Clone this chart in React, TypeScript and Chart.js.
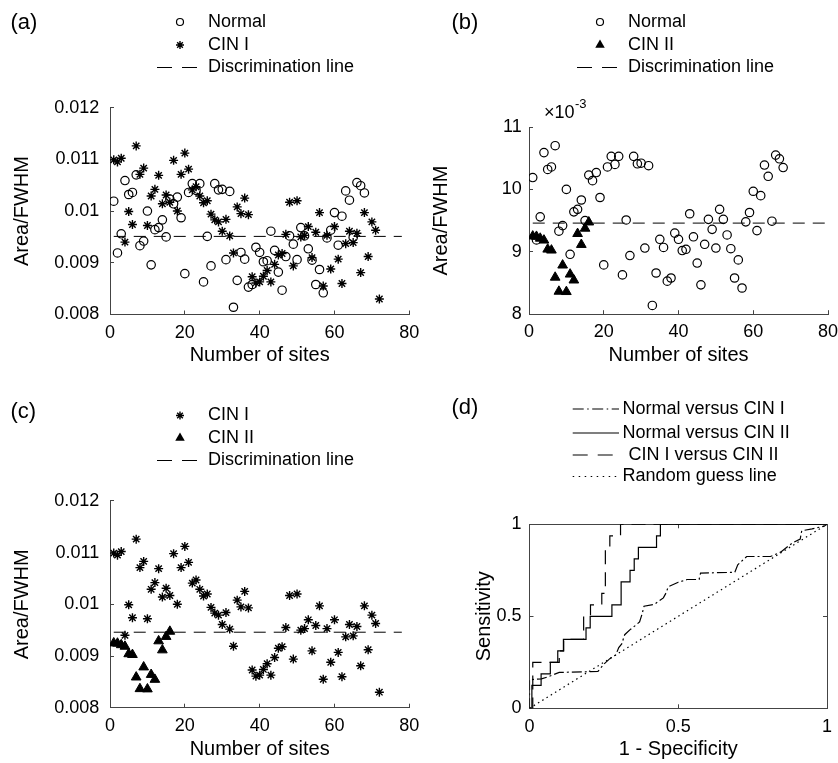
import React, { useEffect, useRef } from 'react';
import { Chart, registerables } from 'chart.js';

Chart.register(...registerables);

const FONT = '"Liberation Sans", Arial, Helvetica, sans-serif';
const AXIS = '#444444';

// ---------------- data ----------------
const siteTicks = [0, 20, 40, 60, 80];
const areaTicks = [0.008, 0.009, 0.01, 0.011, 0.012];
const areaTicksB = [0.008, 0.009, 0.01, 0.011];
const rocTicks = [0, 0.5, 1];

const normalArea = [
  0.01019, 0.00919, 0.00956, 0.01059, 0.01032, 0.01036, 0.0107, 0.00933, 0.00942, 0.01,
  0.00896, 0.00964, 0.00968, 0.00983, 0.0095, 0.01023, 0.01014, 0.01027, 0.00987, 0.00879,
  0.01036, 0.01053, 0.0104, 0.01053, 0.00863, 0.00951, 0.00894, 0.01053, 0.01041, 0.01042,
  0.00906, 0.01038, 0.00814, 0.00866, 0.0092, 0.00907, 0.00853, 0.00858, 0.0093, 0.0092,
  0.00902, 0.00904, 0.00961, 0.00924, 0.00882, 0.00847, 0.00912, 0.00952, 0.00936, 0.00906,
  0.00968, 0.00952, 0.00927, 0.00905, 0.00858, 0.00887, 0.00842, 0.00948, 0.00963, 0.00997,
  0.00934, 0.0099, 0.01039, 0.01021, 0.00949, 0.01055, 0.01049, 0.01035,
];

const cin1Area = [
  0.01099, 0.01095, 0.01102, 0.0094, 0.00999, 0.00974, 0.01126, 0.01071, 0.01083, 0.00972,
  0.01029, 0.01042, 0.01069, 0.01014, 0.01031, 0.01017, 0.01098, 0.01, 0.01071, 0.01112,
  0.01081, 0.01041, 0.01047, 0.01029, 0.01016, 0.0102, 0.00994, 0.00983, 0.00979, 0.00961,
  0.00984, 0.00952, 0.00919, 0.01008, 0.00995, 0.01025, 0.00993, 0.00873, 0.00861, 0.00863,
  0.00874, 0.00885, 0.00863, 0.00897, 0.00915, 0.00918, 0.00955, 0.01017, 0.00894, 0.0102,
  0.0095, 0.00953, 0.0097, 0.0091, 0.00959, 0.00997, 0.00855, 0.00953, 0.00888, 0.0097,
  0.00907, 0.0086, 0.00937, 0.00961, 0.00939, 0.00957, 0.00881, 0.00997, 0.00912, 0.00979,
  0.00963, 0.0083,
];

const cin2Area = [
  0.00925, 0.009245, 0.009215, 0.009185, 0.00904, 0.009025, 0.00859, 0.008365,
  0.008785, 0.00836, 0.00864, 0.008545, 0.00929, 0.009115, 0.009375, 0.009475,
];

const discLevelA = 0.00951;
const discLevelB = 0.00946;
const discLevelC = 0.00946;
const discSitesAC = [1, 78];
const discSitesB = [1, 80];

// ROC: Normal versus CIN I (dash-dot)
const rocN1X = [0, 0, 0.04, 0.06, 0.1, 0.23, 0.25, 0.27, 0.29, 0.3, 0.31, 0.32, 0.34, 0.36, 0.37, 0.378, 0.385, 0.42, 0.45, 0.46, 0.466, 0.5, 0.53, 0.57, 0.575, 0.69, 0.7, 0.73, 0.81, 0.825, 0.845, 0.865, 0.885, 0.91, 0.915, 0.95, 0.99, 1];
const rocN1Y = [0, 0.155, 0.16, 0.17, 0.195, 0.2, 0.24, 0.27, 0.29, 0.33, 0.35, 0.4, 0.43, 0.455, 0.47, 0.51, 0.555, 0.565, 0.6, 0.63, 0.66, 0.685, 0.7, 0.7, 0.735, 0.739, 0.78, 0.825, 0.825, 0.835, 0.85, 0.875, 0.9, 0.92, 0.965, 0.975, 0.99, 1];
// ROC: Normal versus CIN II (solid)
const rocN2X = [0, 0.008, 0.008, 0.039, 0.039, 0.07, 0.07, 0.095, 0.095, 0.114, 0.114, 0.19, 0.19, 0.204, 0.204, 0.277, 0.277, 0.308, 0.308, 0.338, 0.338, 0.352, 0.352, 0.366, 0.366, 0.427, 0.427, 0.44, 0.44, 1];
const rocN2Y = [0, 0, 0.125, 0.125, 0.1875, 0.1875, 0.25, 0.25, 0.3125, 0.3125, 0.375, 0.375, 0.4375, 0.4375, 0.5, 0.5, 0.5625, 0.5625, 0.6875, 0.6875, 0.75, 0.75, 0.8125, 0.8125, 0.875, 0.875, 0.9375, 0.9375, 1, 1];
// ROC: CIN I versus CIN II (dashed)
const rocC12X = [0, 0.011, 0.011, 0.1, 0.1, 0.115, 0.115, 0.182, 0.182, 0.205, 0.205, 0.243, 0.243, 0.255, 0.255, 0.27, 0.27, 0.306, 0.306, 1];
const rocC12Y = [0, 0, 0.25, 0.25, 0.3125, 0.3125, 0.375, 0.375, 0.5, 0.5, 0.5625, 0.5625, 0.625, 0.625, 0.875, 0.875, 0.9375, 0.9375, 1, 1];
// Random guess
const randomX = [0, 1];
const randomY = [0, 1];

// ---------------- helpers ----------------
const sitePoints = (vals: number[]) => vals.map((y, i) => ({ x: i + 1, y }));
const zipXY = (xs: number[], ys: number[]) => xs.map((x, i) => ({ x, y: ys[i] }));
const hLine = (xs: number[], level: number) => xs.map((x) => ({ x, y: level }));

function xScale(min: number, max: number, ticks: number[], title: string, h: number) {
  return {
    type: 'linear',
    position: 'bottom',
    min,
    max,
    afterBuildTicks: (s: any) => { s.ticks = ticks.map((v) => ({ value: v })); },
    afterFit: (s: any) => { s.height = h; s.paddingLeft = 0; s.paddingRight = 0; },
    ticks: { color: '#000', font: { family: FONT, size: 18 }, padding: 11.5, maxRotation: 0, autoSkip: false, callback: (v: any) => String(v) },
    grid: { display: true, drawOnChartArea: false, drawTicks: true, tickLength: -4, color: AXIS, lineWidth: 1 },
    border: { display: true, color: AXIS, width: 1 },
    title: { display: true, text: title, color: '#000', font: { family: FONT, size: 20 }, padding: 0 },
  };
}

function yScale(min: number, max: number, ticks: number[], fmt: (v: number) => string, title: string, w: number, pad: number) {
  return {
    type: 'linear',
    position: 'left',
    min,
    max,
    afterBuildTicks: (s: any) => { s.ticks = ticks.map((v) => ({ value: v })); },
    afterFit: (s: any) => { s.width = w; s.paddingTop = 0; s.paddingBottom = 0; },
    ticks: { color: '#000', font: { family: FONT, size: 18 }, padding: pad, autoSkip: false, callback: (v: any) => fmt(v) },
    grid: { display: true, drawOnChartArea: false, drawTicks: true, tickLength: -4, color: AXIS, lineWidth: 1 },
    border: { display: true, color: AXIS, width: 1 },
    title: { display: true, text: title, color: '#000', font: { family: FONT, size: 20 }, padding: 0 },
  };
}

function boxScale(axis: 'x' | 'y', position: string, ticks: number[]) {
  return {
    type: 'linear',
    axis,
    position,
    min: 0,
    max: 1,
    afterBuildTicks: (s: any) => { s.ticks = ticks.map((v) => ({ value: v })); },
    afterFit: (s: any) => {
      if (axis === 'x') s.height = 0; else s.width = 0;
      s.paddingLeft = 0; s.paddingRight = 0; s.paddingTop = 0; s.paddingBottom = 0;
    },
    ticks: { display: false },
    grid: { display: true, drawOnChartArea: false, drawTicks: true, tickLength: -4, color: AXIS, lineWidth: 1 },
    border: { display: true, color: AXIS, width: 1 },
  };
}

type Kind = 'circle' | 'star' | 'triangle' | 'dash' | 'solid' | 'dashdot' | 'dotted';
type Item = { label: string; kind: Kind; textX?: number };
type Overlay = {
  tag: string; tagX: number; tagY: number;
  markX: number; lineX0: number; lineX1: number; textX: number;
  rows: number[]; items: Item[];
  extra?: (ctx: CanvasRenderingContext2D) => void;
};

function drawMark(ctx: CanvasRenderingContext2D, kind: Kind, cx: number, x0: number, x1: number, y: number) {
  ctx.save();
  ctx.strokeStyle = '#000';
  ctx.fillStyle = '#000';
  ctx.lineWidth = 1;
  ctx.setLineDash([]);
  ctx.beginPath();
  if (kind === 'circle') {
    ctx.lineWidth = 1.2;
    ctx.arc(cx, y, 3.5, 0, Math.PI * 2);
    ctx.stroke();
  } else if (kind === 'star') {
    const r = 4;
    const d = r * Math.SQRT1_2;
    ctx.moveTo(cx - r, y); ctx.lineTo(cx + r, y);
    ctx.moveTo(cx, y - r); ctx.lineTo(cx, y + r);
    ctx.moveTo(cx - d, y - d); ctx.lineTo(cx + d, y + d);
    ctx.moveTo(cx - d, y + d); ctx.lineTo(cx + d, y - d);
    ctx.lineWidth = 1.4;
    ctx.stroke();
  } else if (kind === 'triangle') {
    const r = 5.5;
    ctx.moveTo(cx, y - r);
    ctx.lineTo(cx + r * 0.866, y + r / 2);
    ctx.lineTo(cx - r * 0.866, y + r / 2);
    ctx.closePath();
    ctx.fill();
  } else {
    if (kind === 'dash') ctx.setLineDash([15, 10]);
    if (kind === 'dashdot') ctx.setLineDash([11, 3.5, 1.5, 3.5]);
    if (kind === 'dotted') ctx.setLineDash([1.5, 4.5]);
    ctx.lineWidth = 1.2;
    ctx.moveTo(x0, y);
    ctx.lineTo(x1, y);
    ctx.stroke();
  }
  ctx.restore();
}

function overlayPlugin(o: Overlay) {
  return {
    id: 'overlay',
    afterDraw(chart: any) {
      const ctx: CanvasRenderingContext2D = chart.ctx;
      ctx.save();
      ctx.fillStyle = '#000';
      ctx.textBaseline = 'middle';
      ctx.textAlign = 'left';
      ctx.font = `22px ${FONT}`;
      ctx.fillText(o.tag, o.tagX, o.tagY);
      o.items.forEach((it, i) => {
        const y = o.rows[i];
        drawMark(ctx, it.kind, o.markX, o.lineX0, o.lineX1, y);
        ctx.fillStyle = '#000';
        ctx.font = `18px ${FONT}`;
        ctx.fillText(it.label, it.textX ?? o.textX, y);
      });
      if (o.extra) o.extra(ctx);
      ctx.restore();
    },
  };
}

const baseOptions = (padding: any, scales: any) => ({
  responsive: false,
  maintainAspectRatio: false,
  animation: false,
  events: [],
  layout: { padding },
  plugins: { legend: { display: false }, tooltip: { enabled: false } },
  scales,
});

const normalDs = () => ({ label: 'Normal', data: sitePoints(normalArea), pointStyle: 'circle', pointRadius: 4.2, borderColor: '#000', backgroundColor: 'rgba(0,0,0,0)', borderWidth: 1.2, order: 3 });
const cin1Ds = () => ({ label: 'CIN I', data: sitePoints(cin1Area), pointStyle: 'star', pointRadius: 4.5, borderColor: '#000', backgroundColor: '#000', borderWidth: 1.4, order: 2 });
const cin2Ds = () => ({ label: 'CIN II', data: sitePoints(cin2Area), pointStyle: 'triangle', pointRadius: 5.6, borderColor: '#000', backgroundColor: '#000', borderWidth: 1, order: 1 });
const discDs = (xs: number[], level: number) => ({ label: 'Discrimination line', data: hLine(xs, level), showLine: true, pointRadius: 0, borderColor: '#000', borderWidth: 1, borderDash: [12, 8], order: 0 });
const rocDs = (label: string, xs: number[], ys: number[], dash: number[]) => ({ label, data: zipXY(xs, ys), showLine: true, pointRadius: 0, borderColor: '#000', borderWidth: 1.2, borderDash: dash, order: 0 });

const fmtPlain = (v: number) => String(v);
const fmtMilli = (v: number) => String(Math.round(v * 1000));

function configA() {
  return {
    type: 'scatter',
    data: { datasets: [normalDs(), cin1Ds(), discDs(discSitesAC, discLevelA)] },
    options: baseOptions({ top: 107.6, left: 10, right: 12.7, bottom: 12.2 }, {
      x: xScale(0, 80, siteTicks, 'Number of sites', 53.3),
      y: yScale(0.008, 0.012, areaTicks, fmtPlain, 'Area/FWHM', 100, 14.7),
    }),
    plugins: [overlayPlugin({
      tag: '(a)', tagX: 10.5, tagY: 23, markX: 180, lineX0: 157, lineX1: 197, textX: 208,
      rows: [22, 45, 67.5],
      items: [{ label: 'Normal', kind: 'circle' }, { label: 'CIN I', kind: 'star' }, { label: 'Discrimination line', kind: 'dash' }],
    })],
  };
}

function configB() {
  return {
    type: 'scatter',
    data: { datasets: [normalDs(), cin2Ds(), discDs(discSitesB, discLevelB)] },
    options: baseOptions({ top: 127, left: 10, right: 10, bottom: 12.5 }, {
      x: xScale(0, 80, siteTicks, 'Number of sites', 53.3),
      y: yScale(0.008, 0.011, areaTicksB, fmtMilli, 'Area/FWHM', 100, 11.3),
    }),
    plugins: [overlayPlugin({
      tag: '(b)', tagX: 32.5, tagY: 23, markX: 181, lineX0: 158, lineX1: 198, textX: 209,
      rows: [22, 45, 67.5],
      items: [{ label: 'Normal', kind: 'circle' }, { label: 'CIN II', kind: 'triangle' }, { label: 'Discrimination line', kind: 'dash' }],
      extra: (ctx) => {
        ctx.fillStyle = '#000';
        ctx.textBaseline = 'middle';
        ctx.font = `18px ${FONT}`;
        const base = '\u00d710';
        ctx.fillText(base, 125, 113);
        const w = ctx.measureText(base).width;
        ctx.font = `13px ${FONT}`;
        ctx.fillText('-3', 125 + w + 0.5, 104.5);
      },
    })],
  };
}

function configC() {
  return {
    type: 'scatter',
    data: { datasets: [cin1Ds(), cin2Ds(), discDs(discSitesAC, discLevelC)] },
    options: baseOptions({ top: 120.9, left: 10, right: 12.7, bottom: 2 }, {
      x: xScale(0, 80, siteTicks, 'Number of sites', 53.3),
      y: yScale(0.008, 0.012, areaTicks, fmtPlain, 'Area/FWHM', 100, 14.7),
    }),
    plugins: [overlayPlugin({
      tag: '(c)', tagX: 10.5, tagY: 31.7, markX: 180, lineX0: 157, lineX1: 197, textX: 208,
      rows: [35.5, 58, 80.5],
      items: [{ label: 'CIN I', kind: 'star' }, { label: 'CIN II', kind: 'triangle' }, { label: 'Discrimination line', kind: 'dash' }],
    })],
  };
}

function configD() {
  return {
    type: 'scatter',
    data: {
      datasets: [
        rocDs('Normal versus CIN I', rocN1X, rocN1Y, [10, 3, 2, 3]),
        rocDs('Normal versus CIN II', rocN2X, rocN2Y, []),
        rocDs('CIN I versus CIN II', rocC12X, rocC12Y, [14, 8]),
        rocDs('Random guess line', randomX, randomY, [1.5, 3.5]),
      ],
    },
    options: baseOptions({ top: 144.3, left: 53, right: 11, bottom: 1.4 }, {
      x: xScale(0, 1, rocTicks, '1 - Specificity', 53.3),
      y: yScale(0, 1, rocTicks, fmtPlain, 'Sensitivity', 57.5, 12),
      x2: boxScale('x', 'top', rocTicks),
      y2: boxScale('y', 'right', rocTicks),
    }),
    plugins: [overlayPlugin({
      tag: '(d)', tagX: 32.5, tagY: 28, markX: 176, lineX0: 153.7, lineX1: 200, textX: 203.6,
      rows: [29, 53, 75, 96.5],
      items: [
        { label: 'Normal versus CIN I', kind: 'dashdot' },
        { label: 'Normal versus CIN II', kind: 'solid' },
        { label: 'CIN I versus CIN II', kind: 'dash', textX: 209.4 },
        { label: 'Random guess line', kind: 'dotted' },
      ],
    })],
  };
}

function Panel({ left, top, width, height, build }: { left: number; top: number; width: number; height: number; build: () => any }) {
  const ref = useRef<HTMLCanvasElement>(null);
  useEffect(() => {
    const chart = new Chart(ref.current as HTMLCanvasElement, build());
    return () => chart.destroy();
  }, []);
  return (
    <canvas
      ref={ref}
      width={width}
      height={height}
      style={{ position: 'absolute', left, top, width, height, display: 'block' }}
    />
  );
}

export default function App() {
  return (
    <div style={{ position: 'absolute', left: 0, top: 0, width: 838, height: 763, background: '#fff', overflow: 'hidden' }}>
      <Panel left={0} top={0} width={422} height={380} build={configA} />
      <Panel left={419} top={0} width={419} height={380} build={configB} />
      <Panel left={0} top={380} width={422} height={383} build={configC} />
      <Panel left={419} top={380} width={419} height={383} build={configD} />
    </div>
  );
}
